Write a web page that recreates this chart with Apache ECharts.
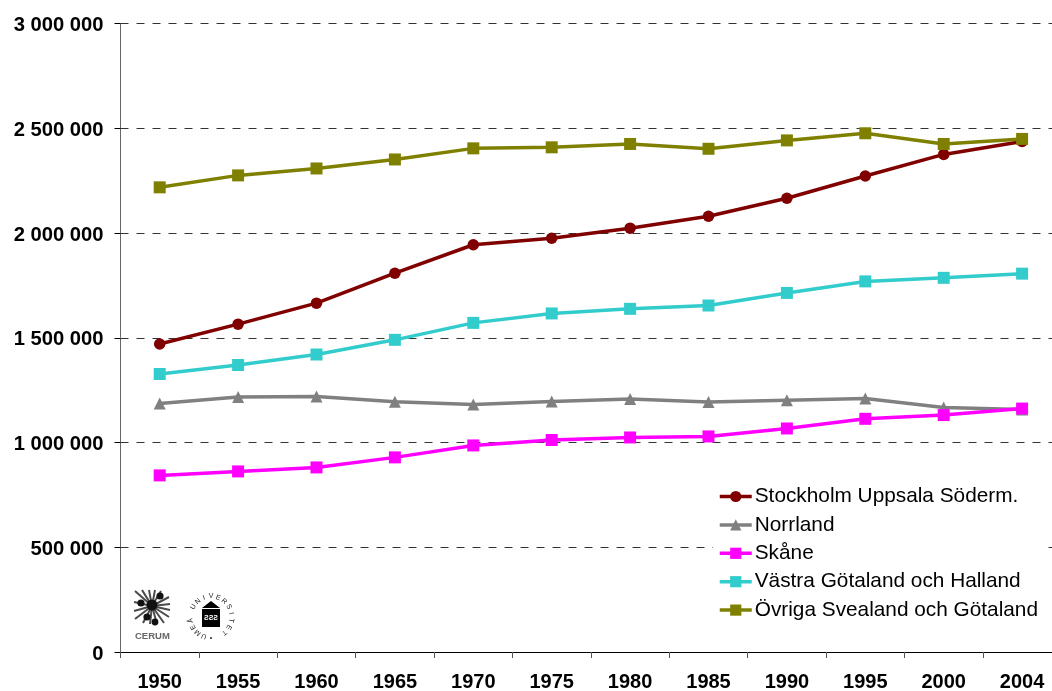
<!DOCTYPE html>
<html><head><meta charset="utf-8">
<style>html,body{margin:0;padding:0;background:#fff}#c{width:1052px;height:691px}</style>
<script src="https://cdn.jsdelivr.net/npm/echarts@6/dist/echarts.min.js"></script></head>
<body><div id="c"></div>
<script>
const years=['1950','1955','1960','1965','1970','1975','1980','1985','1990','1995','2000','2004'];
const stockholm=[1470000,1565000,1665000,1808000,1944000,1975000,2023000,2080000,2166000,2272000,2375000,2437000];
const norrland=[1186000,1217000,1220000,1195000,1181000,1196000,1208000,1193000,1202000,1210000,1167000,1158000];
const skane=[843000,862000,881000,929000,986000,1012000,1024000,1029000,1067000,1113000,1131000,1162000];
const vastra=[1327000,1370000,1420000,1490000,1571000,1616000,1638000,1654000,1714000,1769000,1786000,1806000];
const ovriga=[2218000,2275000,2308000,2351000,2404000,2409000,2425000,2402000,2442000,2476000,2425000,2449000];
const font='"Liberation Sans", Arial, sans-serif';
const mk=(name,data,color,symbol,size)=>({name,data,type:'line',color,symbol,symbolSize:size,showSymbol:true,animation:false,
  lineStyle:{width:3.5,color},itemStyle:{color}});
const chart=echarts.init(document.getElementById('c'),null,{renderer:'canvas'});
// Logo parts (decorative, not data)
const rays=[[-17,-15],[-10,-16],[-3,-16],[3,-16],[9,-15],[17,-9],[18,-2],[18,4],[17,11],[12,17],[5,18],[-2,18],[-9,17],[-17,13],[-18,5],[-18,-4]].map(p=>
  ({type:'line',shape:{x1:0,y1:0,x2:p[0],y2:p[1]},style:{stroke:'#4a4a4a',lineWidth:2}}));
const blobs=[[0,-1,5.5],[-11,-3,3.6],[8,-10,3.6],[-5,11,3.6],[3,16,3.4]].map(b=>({type:'circle',shape:{cx:b[0],cy:b[1],r:b[2]},style:{fill:'#111'}}));
const ring='•UMEÅ UNIVERSITET '.split('').map((ch,i,a)=>{
  const ang=Math.PI/2+i*(2*Math.PI/a.length);
  return {type:'text',x:20.5*Math.cos(ang),y:20.5*Math.sin(ang),rotation:-(ang+Math.PI/2),
    style:{text:ch,font:'7px '+font,fill:'#222',align:'center',verticalAlign:'middle'}};
});
chart.setOption({
  animation:false,backgroundColor:'#fff',
  grid:{left:120.5,top:23.5,width:940.8,height:628.5,containLabel:false,outerBoundsMode:'none'},
  xAxis:{type:'category',data:years,boundaryGap:true,
    axisLine:{lineStyle:{color:'#000',width:1}},
    axisTick:{show:true,alignWithLabel:false,length:6,lineStyle:{color:'#555'}},
    axisLabel:{margin:20,interval:0,color:'#000',fontFamily:font,fontWeight:'bold',fontSize:20},
    splitLine:{show:false}},
  yAxis:{type:'value',min:0,max:3000000,interval:500000,
    axisLine:{show:true,lineStyle:{color:'#666',width:1}},
    axisTick:{show:true,length:6,lineStyle:{color:'#000'}},
    axisLabel:{margin:17,color:'#000',
      formatter:v=>'{n|'+String(v).replace(/\B(?=(\d{3})+$)/g,' ')+'}',
      rich:{n:{color:'#000',fontFamily:font,fontWeight:'bold',fontSize:20.2,padding:[4,0,0,0]}}},
    splitLine:{show:true,lineStyle:{color:'#333',type:[8,8],width:1}}},
  legend:{orient:'vertical',left:713,top:481,itemWidth:32,itemHeight:14,itemGap:7.4,
    backgroundColor:'#fff',
    lineStyle:{width:3.5},
    textStyle:{fontFamily:font,fontSize:20.8,color:'#000',padding:[0,0,0,-2]},
    data:['Stockholm Uppsala Söderm.','Norrland','Skåne','Västra Götaland och Halland','Övriga Svealand och Götaland']},
  series:[
    mk('Stockholm Uppsala Söderm.',stockholm,'#800000','circle',11.5),
    mk('Norrland',norrland,'#808080','triangle',12),
    mk('Skåne',skane,'#FF00FF','rect',12),
    mk('Västra Götaland och Halland',vastra,'#33CCCC','rect',12),
    mk('Övriga Svealand och Götaland',ovriga,'#808000','rect',12)
  ],
  graphic:[
    {type:'group',x:152,y:606,children:rays.concat(blobs)},
    {type:'text',x:135,y:631,style:{text:'CERUM',font:'bold 9.5px '+font,fill:'#666'}},
    {type:'group',x:211,y:617,children:ring.concat([
      {type:'polygon',shape:{points:[[-9,-9],[0,-16],[9,-9]]},style:{fill:'#000'}},
      {type:'rect',shape:{x:-9,y:-8,width:18,height:18},style:{fill:'#000'}},
      {type:'text',x:0,y:1,style:{text:'ƧƧƧ',font:'bold 7px '+font,fill:'#fff',align:'center',verticalAlign:'middle'}}
    ])}
  ]
});
</script></body></html>
